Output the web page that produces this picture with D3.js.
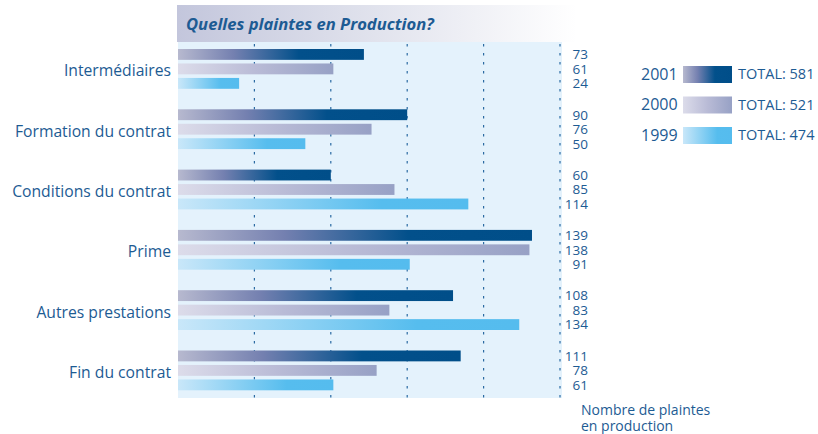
<!DOCTYPE html>
<html><head><meta charset="utf-8">
<script src="https://cdn.jsdelivr.net/npm/d3@7"></script>
<style>
html,body{margin:0;padding:0;background:#fff;}
svg{display:block;font-family:"Open Sans",sans-serif;}
</style></head>
<body>
<svg id="chart" width="818" height="434"></svg>
<script>
const categories = ["Intermédiaires","Formation du contrat","Conditions du contrat","Prime","Autres prestations","Fin du contrat"];
const years = ["2001","2000","1999"];
const values2001 = [73, 90, 60, 139, 108, 111];
const values2000 = [61, 76, 85, 138, 83, 78];
const values1999 = [24, 50, 114, 91, 134, 61];
const totals = ["TOTAL: 581","TOTAL: 521","TOTAL: 474"];
const gridTicks = [30, 60, 90, 120, 150];
const title = "Quelles plaintes en Production?";
const axisLabel = ["Nombre de plaintes","en production"];

const series = [values2001, values2000, values1999];
const textColor = "#1d5b93";

const svg = d3.select("#chart");
const defs = svg.append("defs");

const gradDefs = [
  {id:"g2001", stops:[[0,"#b7b9cf"],[0.3,"#7480b0"],[0.65,"#02508b"],[1,"#004e89"]]},
  {id:"g2000", stops:[[0,"#dcdcea"],[0.5,"#b9bbd6"],[1,"#97a1c5"]]},
  {id:"g1999", stops:[[0,"#c9e7f9"],[0.7,"#56bdee"],[1,"#55bcee"]]}
];
gradDefs.forEach(g=>{
  const lg = defs.append("linearGradient").attr("id",g.id).attr("x1","0").attr("x2","1").attr("y1","0").attr("y2","0");
  g.stops.forEach(s=>lg.append("stop").attr("offset",s[0]).attr("stop-color",s[1]));
});
const tg = defs.append("linearGradient").attr("id","gtitle").attr("x1","0").attr("x2","1").attr("y1","0").attr("y2","0");
tg.append("stop").attr("offset",0).attr("stop-color","#c3c6dc");
tg.append("stop").attr("offset",0.35).attr("stop-color","#dcdeea");
tg.append("stop").attr("offset",0.85).attr("stop-color","#ffffff");

const x = d3.scaleLinear().domain([0,150]).range([178,560]);
const y = d3.scaleBand().domain(categories).range([38.75,400.55]).paddingInner(0.34).paddingOuter(0.17);
const yInner = d3.scaleBand().domain(years).range([0,y.bandwidth()]).paddingInner(0.25).paddingOuter(0);

// title band
svg.append("rect").attr("x",177).attr("y",5).attr("width",470).attr("height",37).attr("fill","url(#gtitle)");
svg.append("text").attr("x",186).attr("y",30).attr("fill",textColor)
  .attr("font-size",16.6).attr("font-weight","bold").attr("font-style","italic").text(title);

// plot bg
svg.append("rect").attr("x",178).attr("y",42).attr("width",384).attr("height",356).attr("fill","#e4f2fc");

// grid
svg.append("g").selectAll("line").data(gridTicks).join("line")
  .attr("x1",d=>x(d)).attr("x2",d=>x(d)).attr("y1",44).attr("y2",398)
  .attr("stroke","#2a6aa2").attr("stroke-width",1.2).attr("stroke-dasharray","2.5,6.5");

// bars
const groups = svg.append("g").selectAll("g").data(categories).join("g")
  .attr("transform",d=>`translate(0,${y(d)})`);
years.forEach((yr,si)=>{
  groups.append("rect")
    .attr("x",x(0)).attr("y",yInner(yr))
    .attr("width",(d,i)=>x(series[si][i])-x(0))
    .attr("height",yInner.bandwidth())
    .attr("fill",`url(#g${yr})`);
  groups.append("text")
    .attr("x",588).attr("y",yInner(yr)+yInner.bandwidth()/2)
    .attr("dy","0.36em").attr("text-anchor","end").attr("font-size",13.5).attr("fill",textColor)
    .text((d,i)=>series[si][i]);
});
// category labels
groups.append("text").attr("x",171).attr("y",y.bandwidth()/2+2).attr("dy","0.35em")
  .attr("text-anchor","end").attr("font-size",15.7).attr("fill",textColor).text(d=>d);

// axis label
svg.append("g").selectAll("text").data(axisLabel).join("text")
  .attr("x",581).attr("y",(d,i)=>415+i*16).attr("font-size",14).attr("fill",textColor).text(d=>d);

// legend
const lg = svg.append("g");
years.forEach((yr,i)=>{
  const cy = 74 + i*30.5;
  lg.append("text").attr("x",641).attr("y",cy).attr("dy","0.36em").attr("font-size",16).attr("fill",textColor).text(yr);
  lg.append("rect").attr("x",683).attr("y",cy-8).attr("width",49).attr("height",17).attr("fill",`url(#g${yr})`);
  lg.append("text").attr("x",738).attr("y",cy).attr("dy","0.36em").attr("font-size",14.5).attr("fill",textColor).text(totals[i]);
});
</script>
</body></html>
